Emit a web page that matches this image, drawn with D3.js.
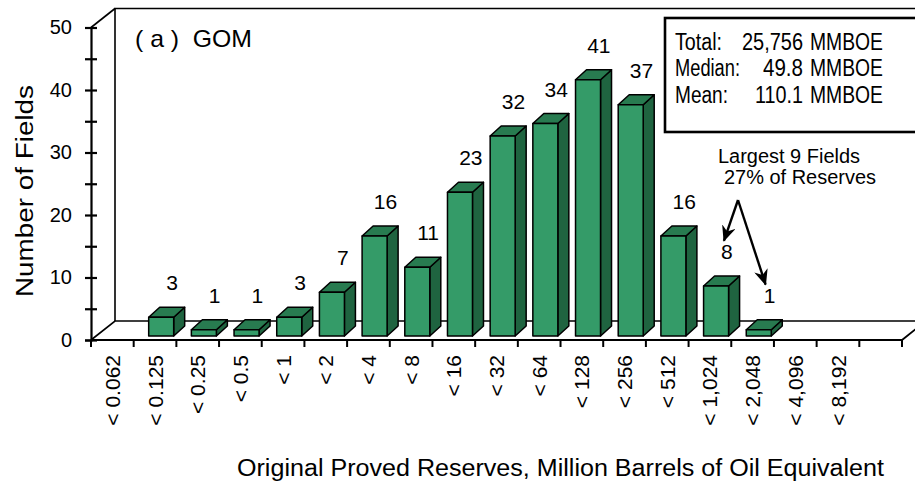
<!DOCTYPE html>
<html>
<head>
<meta charset="utf-8">
<script src="https://cdn.jsdelivr.net/npm/d3@7"></script>
<style>
  html, body { margin: 0; padding: 0; background: #fff; }
  svg { display: block; }
  text { font-family: "Liberation Sans", Arial, Helvetica, sans-serif; fill: #000; }
</style>
</head>
<body>
<svg id="chart" width="915" height="485"></svg>
<script>
// Size classes of original proved reserves (MMBOE); the last slot is an empty spacer
const categories = ["< 0.062", "< 0.125", "< 0.25", "< 0.5", "< 1", "< 2", "< 4", "< 8",
  "< 16", "< 32", "< 64", "< 128", "< 256", "< 512", "< 1,024", "< 2,048", "< 4,096", "< 8,192", " "];
// Number of fields in each size class
const fieldCounts = [0, 3, 1, 1, 3, 7, 16, 11, 23, 32, 34, 41, 37, 16, 8, 1, 0, 0, 0];
const yTickValues = [0, 5, 10, 15, 20, 25, 30, 35, 40, 45, 50];
const yLabelValues = [0, 10, 20, 30, 40, 50];
const statNames = ["Total:", "Median:", "Mean:"];
const statValues = ["25,756", "49.8", "110.1"];
const statUnit = "MMBOE";
const panelTitle = "( a )  GOM";
const calloutLines = ["Largest 9 Fields", "27% of Reserves"];
const calloutTargets = ["< 1,024", "< 2,048"];

const svg = d3.select("#chart");

const x = d3.scaleBand().domain(categories).range([91, 902]).padding(0);
const y = d3.scaleLinear().domain([0, 50]).range([340, 27.5]);
const bw = x.bandwidth();

// depth of the 3-D frame (back wall offset) and of each bar
const wall = { dx: 24, dy: -19 };
const barFront = { dx: 4, dy: -4 };
const barDepth = { dx: 11, dy: -10 };
const barW = 25;
const labelGap = 27;     // baseline of a value label above the bar's front top edge
const labelSize = 21;

const colors = { front: "#349b68", top: "#287b50", side: "#1f6440" };

// ---------- frame: floor, back wall ----------
const [x0, x1] = x.range();
const frame = svg.append("g").attr("fill", "none").attr("stroke", "#000");
const y0 = y(0), yTop = y(50);
// back wall
frame.append("path").attr("stroke-width", 1.6)
  .attr("d", `M${x0 + wall.dx},${y0 + wall.dy} V${yTop + wall.dy} H920`);
frame.append("path").attr("stroke-width", 1.6)
  .attr("d", `M${x0},${yTop} L${x0 + wall.dx},${yTop + wall.dy}`);
// floor
frame.append("path").attr("stroke-width", 1.6)
  .attr("d", `M${x0},${y0} L${x0 + wall.dx},${y0 + wall.dy} H920`);
frame.append("path").attr("stroke-width", 1.8)
  .attr("d", `M${x0},${y0} H${x1} l${wall.dx},${wall.dy}`);

// ---------- y axis ----------
const yAxis = d3.axisLeft(y)
  .tickValues(yTickValues)
  .tickSize(6)
  .tickPadding(13)
  .tickFormat(d => yLabelValues.includes(d) ? d : "");
const gy = svg.append("g").attr("transform", `translate(${x0},0)`).call(yAxis);
gy.select(".domain").attr("stroke", "#000").attr("stroke-width", 2.2);
gy.selectAll(".tick line").attr("stroke", "#000").attr("stroke-width", 2.2).attr("x1", 6);
gy.selectAll(".tick text")
  .style("font-size", "20px")
  .style("font-family", "'Liberation Sans', Arial, sans-serif")
  .attr("fill", "#000");

// ---------- x axis: ticks at class boundaries, rotated labels ----------
const boundaries = categories.map(c => x(c)).concat([x1]);
svg.append("g").selectAll("line").data(boundaries).join("line")
  .attr("x1", d => d).attr("x2", d => d)
  .attr("y1", y0).attr("y2", y0 + 7)
  .attr("stroke", "#000").attr("stroke-width", 2);

const xAxis = d3.axisBottom(x).tickSize(0).tickPadding(0);
const gx = svg.append("g").attr("transform", `translate(0,${y0})`).call(xAxis);
gx.select(".domain").remove();
gx.selectAll(".tick text")
  .style("font-size", "21px")
  .style("font-family", "'Liberation Sans', Arial, sans-serif")
  .attr("fill", "#000")
  .attr("text-anchor", "end")
  .attr("dy", "0.36em")
  .attr("y", 0)
  .attr("transform", "translate(0,15) rotate(-90)");

// ---------- 3-D bars ----------
const bars = categories.map((c, i) => ({ c, v: fieldCounts[i] })).filter(d => d.v > 0);
const gb = svg.append("g").attr("stroke", "#000").attr("stroke-width", 1.5).attr("stroke-linejoin", "round");
bars.forEach(d => {
  const fx = x(d.c) + 11 + barFront.dx;
  const fyTop = y(d.v) + barFront.dy;
  const fyBot = y(0) + barFront.dy;
  const g = gb.append("g");
  // side face
  g.append("path").attr("fill", colors.side)
    .attr("d", `M${fx + barW},${fyBot} l${barDepth.dx},${barDepth.dy} V${fyTop + barDepth.dy} l${-barDepth.dx},${-barDepth.dy} Z`);
  // top face
  g.append("path").attr("fill", colors.top)
    .attr("d", `M${fx},${fyTop} l${barDepth.dx},${barDepth.dy} h${barW} l${-barDepth.dx},${-barDepth.dy} Z`);
  // front face
  g.append("rect").attr("fill", colors.front)
    .attr("x", fx).attr("y", fyTop).attr("width", barW).attr("height", fyBot - fyTop);
});

// value labels above bars
const labelX = c => x(c) + bw / 2 + 17;
const labelY = v => y(v) + barFront.dy - labelGap;
svg.append("g").selectAll("text").data(bars).join("text")
  .attr("x", d => labelX(d.c))
  .attr("y", d => labelY(d.v))
  .attr("text-anchor", "middle")
  .style("font-size", labelSize + "px")
  .text(d => d.v);

// ---------- titles ----------
svg.append("text")
  .attr("x", 135).attr("y", 47)
  .style("font-size", "24px")
  .attr("textLength", 117).attr("lengthAdjust", "spacingAndGlyphs")
  .style("white-space", "pre")
  .text(panelTitle);

svg.append("text")
  .attr("transform", "translate(33,191) rotate(-90)")
  .attr("text-anchor", "middle")
  .style("font-size", "23px")
  .attr("textLength", 212).attr("lengthAdjust", "spacingAndGlyphs")
  .text("Number of Fields");

svg.append("text")
  .attr("x", 237).attr("y", 476)
  .style("font-size", "23px")
  .attr("textLength", 647).attr("lengthAdjust", "spacingAndGlyphs")
  .text("Original Proved Reserves, Million Barrels of Oil Equivalent");

// ---------- statistics box ----------
svg.append("rect")
  .attr("x", 665).attr("y", 18).attr("width", 270).attr("height", 114)
  .attr("fill", "#fff").attr("stroke", "#000").attr("stroke-width", 2.6);
const statNameW = [47, 65, 53];
const statValW = [61, 40, 48];
const gs = svg.append("g");
statNames.forEach((n, i) => {
  const by = 50 + i * 26.3;
  gs.append("text").attr("x", 675).attr("y", by).style("font-size", "23px")
    .attr("textLength", statNameW[i]).attr("lengthAdjust", "spacingAndGlyphs").text(n);
  gs.append("text").attr("x", 803 - statValW[i]).attr("y", by).style("font-size", "23px")
    .attr("textLength", statValW[i]).attr("lengthAdjust", "spacingAndGlyphs").text(statValues[i]);
  gs.append("text").attr("x", 810).attr("y", by).style("font-size", "23px")
    .attr("textLength", 73).attr("lengthAdjust", "spacingAndGlyphs").text(statUnit);
});

// ---------- callout for the largest fields ----------
svg.append("text").attr("x", 718).attr("y", 163).style("font-size", "20px")
  .attr("textLength", 142).attr("lengthAdjust", "spacingAndGlyphs").text(calloutLines[0]);
svg.append("text").attr("x", 724).attr("y", 183.5).style("font-size", "20px")
  .attr("textLength", 152).attr("lengthAdjust", "spacingAndGlyphs").text(calloutLines[1]);

const defs = svg.append("defs");
defs.append("marker")
  .attr("id", "head").attr("viewBox", "0 0 16 14")
  .attr("refX", 15).attr("refY", 7)
  .attr("markerWidth", 16).attr("markerHeight", 14)
  .attr("markerUnits", "userSpaceOnUse")
  .attr("orient", "auto")
  .append("path").attr("d", "M0,0 L16,7 L0,14 L5,7 Z").attr("fill", "#000");

// arrows point at the value labels of the two largest size classes
const apex = { x: 738, y: 200 };
const tips = calloutTargets.map((c, k) => {
  const v = fieldCounts[categories.indexOf(c)];
  return { x: labelX(c) + (k === 0 ? -3 : -4), y: labelY(v) - labelSize * 0.72 - 3 };
});
svg.append("g").selectAll("line").data(tips).join("line")
  .attr("x1", apex.x).attr("y1", apex.y)
  .attr("x2", d => d.x).attr("y2", d => d.y)
  .attr("stroke", "#000").attr("stroke-width", 2.4)
  .attr("marker-end", "url(#head)");
</script>
</body>
</html>
